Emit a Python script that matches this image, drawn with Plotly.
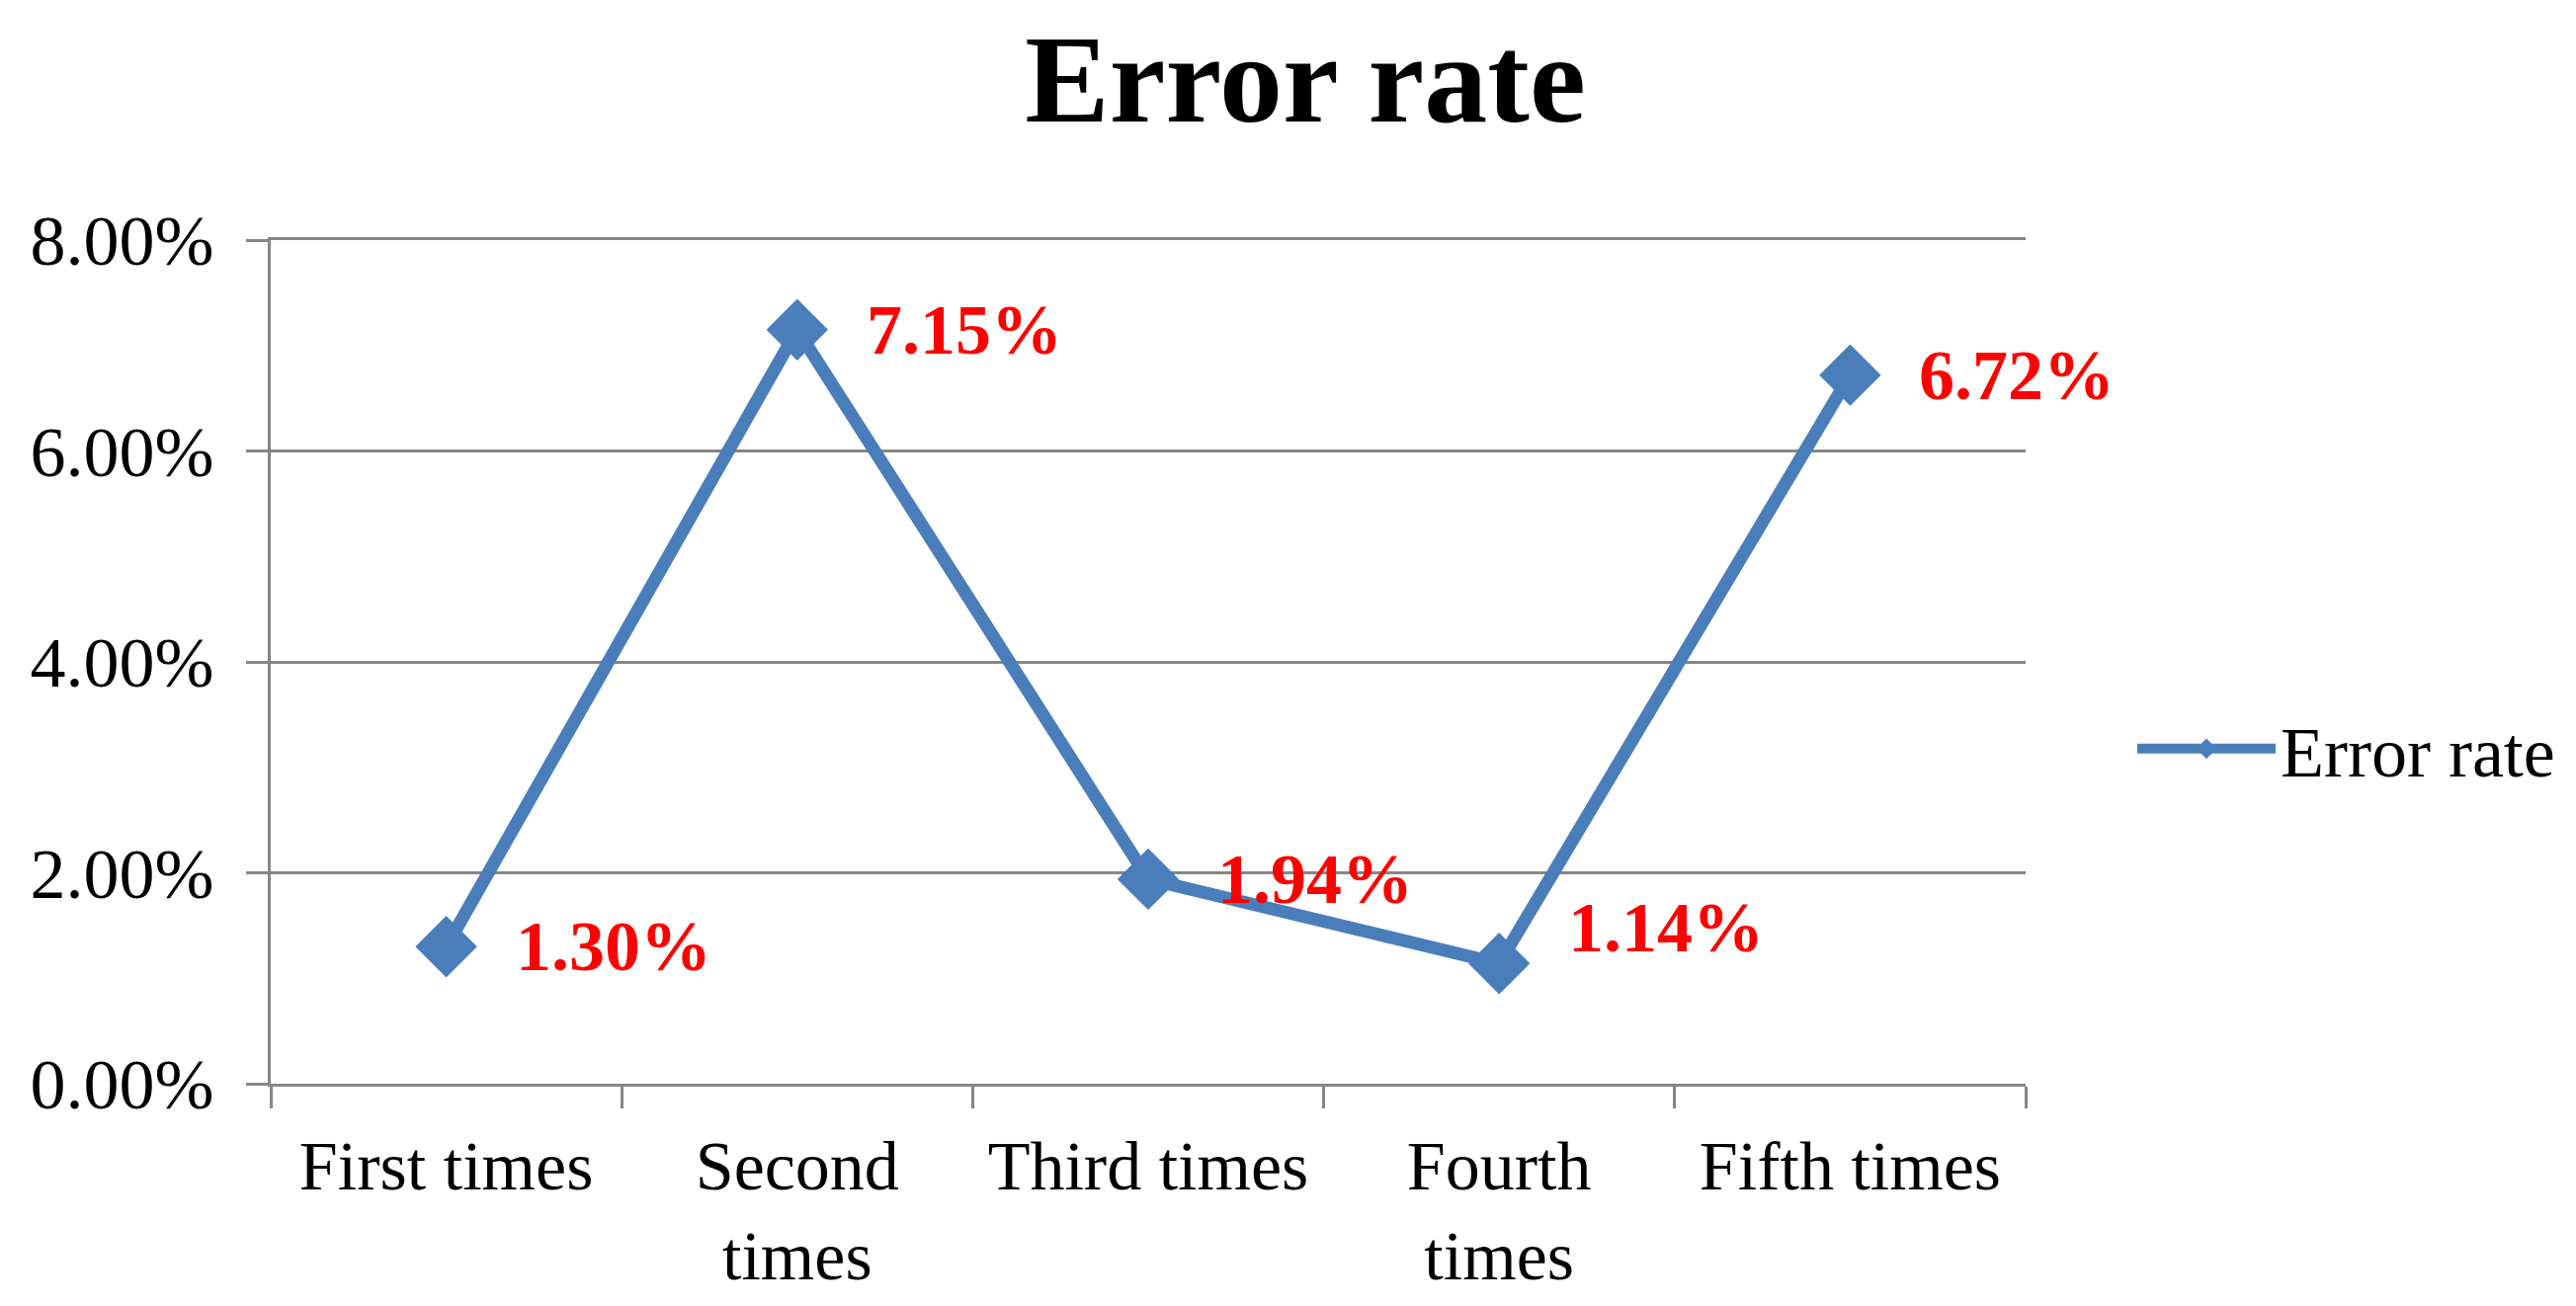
import plotly.graph_objects as go

categories = ["First times", "Second<br>times", "Third times", "Fourth<br>times", "Fifth times"]
error_rate = [0.0130, 0.0715, 0.0194, 0.0114, 0.0672]
value_labels = ["1.30%", "7.15%", "1.94%", "1.14%", "6.72%"]
y_tickvals = [0, 0.02, 0.04, 0.06, 0.08]
y_ticktext = ["0.00%", "2.00%", "4.00%", "6.00%", "8.00%"]

FONT = "Liberation Serif, Times New Roman, serif"
LINE_BLUE = "#4A7EBB"
GRID = "#868686"

# the page body has an 8px margin, so the figure is sized to fit inside it
W, H = 2591, 1306
L, R, T, B = 266, 549, 235, 217

fig = go.Figure()
fig.add_trace(go.Scatter(
    x=categories, y=error_rate, mode="lines+markers", name="Error rate",
    line=dict(color=LINE_BLUE, width=13),
    marker=dict(symbol="diamond", size=48, color=LINE_BLUE),
    cliponaxis=False,
))

label_yshift = [0, 0, 0, 36, 0]
for c, v, t, ys in zip(categories, error_rate, value_labels, label_yshift):
    fig.add_annotation(x=c, y=v, text=t, showarrow=False, xanchor="left",
                       yanchor="middle", xshift=68, yshift=ys,
                       font=dict(family=FONT, size=72, color="#FF0000", weight="bold"))

fig.update_layout(
    width=W, height=H,
    margin=dict(l=L, r=R, t=T, b=B, autoexpand=False),
    paper_bgcolor="white", plot_bgcolor="white",
    font=dict(family=FONT, color="black"),
    title=dict(text="<b>Error rate</b>", x=1313 / W, xanchor="center",
               y=1 - 70 / H, yanchor="middle", yref="container",
               font=dict(family=FONT, size=128, color="black")),
    showlegend=True,
    legend=dict(x=(2150 - L) / (W - L - R), xanchor="left",
                y=(H - B - 750) / (H - T - B), yanchor="middle",
                font=dict(family=FONT, size=72, color="black"),
                itemwidth=140, bgcolor="rgba(0,0,0,0)"),
)

fig.update_xaxes(
    type="category", tickson="boundaries", ticks="outside", ticklen=22,
    tickwidth=3, tickcolor=GRID, showgrid=False, showline=True, mirror=True,
    linecolor=GRID, linewidth=3, tickfont=dict(family=FONT, size=70, color="black"),
    ticklabelstandoff=20, range=[-0.5, 4.5], zeroline=False,
)
fig.update_yaxes(
    range=[0, 0.08], tickvals=y_tickvals, ticktext=y_ticktext,
    ticks="outside", ticklen=22, tickwidth=3, tickcolor=GRID,
    showgrid=True, gridcolor=GRID, gridwidth=3,
    showline=True, linecolor=GRID, linewidth=3, zeroline=False,
    tickfont=dict(family=FONT, size=72, color="black"),
    ticklabelstandoff=18,
)

fig.write_html("out.html")
